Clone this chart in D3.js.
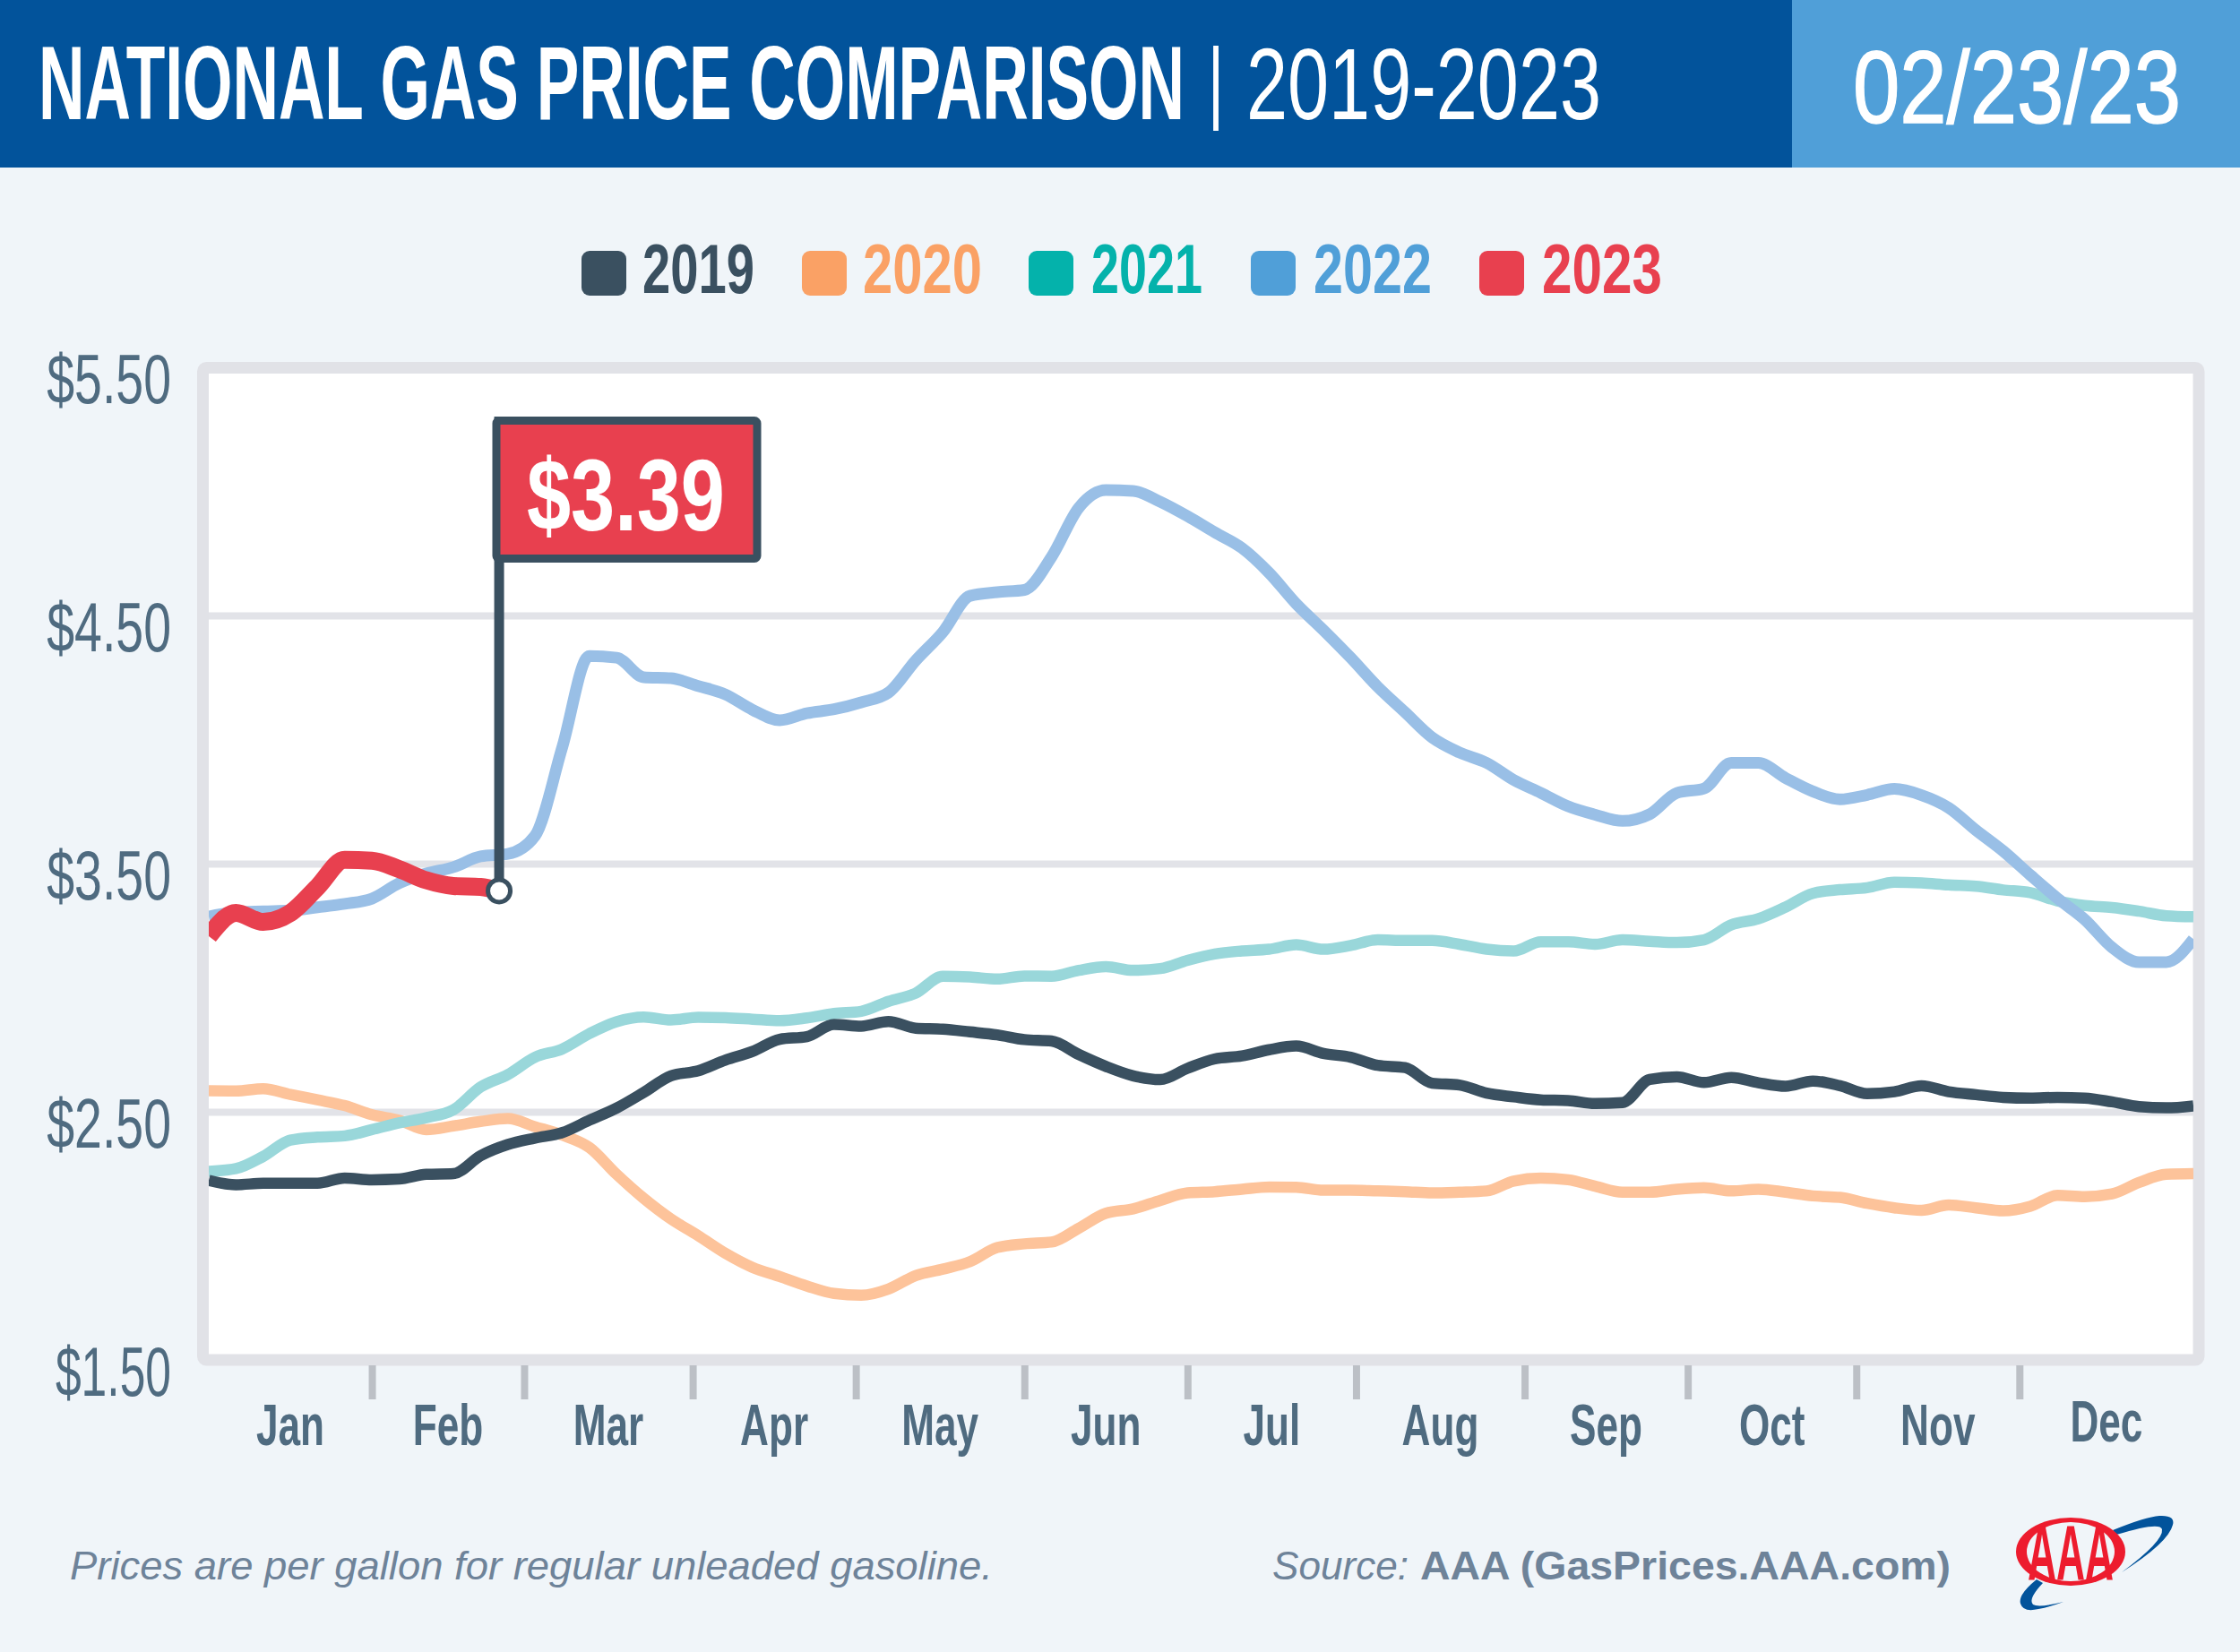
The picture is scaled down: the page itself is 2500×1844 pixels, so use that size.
<!DOCTYPE html>
<html>
<head>
<meta charset="utf-8">
<script src="https://cdn.jsdelivr.net/npm/d3@7"></script>
<style>
html,body{margin:0;padding:0;background:#f0f5f9;}
svg{display:block;}
text{font-family:"Liberation Sans",sans-serif;}
</style>
</head>
<body>
<svg id="c" width="2500" height="1844"></svg>
<script>
const years = ["2019","2020","2021","2022","2023"];
const legendColors = ["#3a5060","#faa165","#04b2ab","#509fd8","#e8404f"];
const lineColors = ["#3a5060","#fdc39a","#99d7da","#99bfe6","#e8404f"];
const months = ["Jan","Feb","Mar","Apr","May","Jun","Jul","Aug","Sep","Oct","Nov","Dec"];
const monthEnds = [30,58,89,119,150,180,211,242,272,303,333];
const priceTicks = [1.5,2.5,3.5,4.5,5.5];
const gridTicks = [2.5,3.5,4.5];
const days = d3.range(0,370,5);
const days2023 = [0,5,10,15,20,25,30,35,40,45,50,53.4];

const y2019 = [2.224,2.206,2.212,2.212,2.212,2.233,2.226,2.229,2.248,2.251,2.323,2.368,2.394,2.416,2.466,2.515,2.578,2.645,2.665,2.708,2.743,2.792,2.803,2.852,2.845,2.864,
2.837,2.833,2.822,2.810,2.791,2.785,2.731,2.683,2.645,2.630,2.675,2.713,2.725,2.750,2.765,2.735,2.720,2.687,2.678,2.615,2.608,2.575,2.560,2.548,2.545,2.533,
2.537,2.630,2.641,2.618,2.638,2.617,2.603,2.624,2.605,2.573,2.581,2.605,2.581,2.569,2.558,2.555,2.558,2.555,2.540,2.521,2.516,2.524];
const y2020 = [2.585,2.584,2.593,2.570,2.548,2.525,2.488,2.466,2.428,2.443,2.461,2.473,2.440,2.406,2.356,2.248,2.151,2.068,2.001,1.930,1.873,1.836,1.798,1.768,1.761,1.786,
1.840,1.866,1.896,1.953,1.968,1.975,2.031,2.091,2.109,2.143,2.173,2.178,2.188,2.197,2.196,2.184,2.184,2.181,2.178,2.173,2.176,2.181,2.221,2.233,2.226,2.200,
2.176,2.176,2.188,2.194,2.181,2.188,2.176,2.161,2.155,2.131,2.113,2.103,2.125,2.113,2.101,2.119,2.163,2.158,2.169,2.215,2.248,2.251];
const y2021 = [2.260,2.271,2.320,2.386,2.398,2.403,2.428,2.455,2.476,2.508,2.600,2.650,2.720,2.753,2.815,2.863,2.882,2.870,2.881,2.879,2.873,2.867,2.878,2.896,2.905,2.945,
2.978,3.046,3.043,3.035,3.047,3.046,3.070,3.085,3.070,3.077,3.110,3.136,3.148,3.155,3.173,3.155,3.170,3.193,3.190,3.190,3.175,3.155,3.148,3.185,3.185,3.175,
3.193,3.187,3.182,3.193,3.253,3.278,3.325,3.380,3.395,3.403,3.425,3.422,3.414,3.409,3.394,3.383,3.350,3.331,3.323,3.308,3.290,3.286];
const y2022 = [3.287,3.304,3.308,3.311,3.324,3.338,3.359,3.421,3.460,3.486,3.529,3.539,3.612,3.968,4.337,4.330,4.251,4.247,4.216,4.182,4.120,4.078,4.106,4.122,4.150,4.189,
4.318,4.433,4.579,4.594,4.603,4.736,4.934,5.005,5.002,4.958,4.900,4.835,4.772,4.672,4.547,4.441,4.330,4.212,4.110,4.008,3.948,3.906,3.837,3.785,3.731,3.697,
3.672,3.699,3.785,3.803,3.906,3.906,3.845,3.791,3.759,3.777,3.801,3.776,3.725,3.635,3.551,3.454,3.360,3.275,3.163,3.103,3.103,3.196];
const y2023 = [3.208,3.301,3.265,3.301,3.406,3.515,3.512,3.478,3.433,3.410,3.406,3.39];
const latestPrice = "$3.39";

const svg = d3.select("#c");
const bg = "#f0f5f9", frameC = "#e1e2e7", axisC = "#4f6b80", noteC = "#6e8399";
const LIB = '"Liberation Sans",sans-serif', ROB = 'Roboto,"Liberation Sans",sans-serif';
const capOf = f => f === ROB ? 0.711 : 0.729;

/* text squeezed to a horizontal span and a cap height */
function fit(g, str, x0, x1, base, cap, weight, fill, fam, sw){
  fam = fam || LIB;
  const t = g.append("text").text(str)
    .attr("font-family", fam).attr("font-size", cap/capOf(fam)).attr("font-weight", weight).attr("fill", fill);
  const w = t.node().getComputedTextLength();
  t.attr("transform", `translate(${x0},${base}) scale(${(x1-x0)/w},1)`);
  if(sw) t.attr("stroke", fill).attr("stroke-width", sw);
  return t;
}

svg.append("rect").attr("width",2500).attr("height",1844).attr("fill",bg);

/* header */
svg.append("rect").attr("width",2000).attr("height",187).attr("fill","#02539b");
svg.append("rect").attr("x",2000).attr("width",500).attr("height",187).attr("fill","#509fd8");
const head = svg.append("g");
fit(head,"NATIONAL GAS PRICE COMPARISON",43,1322,133,83,"700","#fff",ROB);
head.append("text").text("|").attr("text-anchor","middle")
  .attr("transform","translate(1357,125) scale(0.7,1)")
  .attr("font-size",102).attr("fill","#fff");
fit(head,"2019-2023",1391,1787,133,83,"400","#fff");
fit(head,"02/23/23",2068,2434,137,84,"400","#fff",LIB,1.5);

/* legend */
const legendSw = [649,895,1148,1396,1651];
const legendTx = [[717,842],[963,1096],[1218,1342],[1466,1598],[1721,1855]];
const leg = svg.append("g");
years.forEach((yr,i)=>{
  leg.append("rect").attr("x",legendSw[i]).attr("y",280).attr("width",50).attr("height",50).attr("rx",9).attr("fill",legendColors[i]);
  fit(leg,yr,legendTx[i][0],legendTx[i][1],327,55,"700",legendColors[i],ROB);
});

/* scales */
const x = d3.scaleLinear().domain([0,365]).range([233,2448]);
const y = d3.scaleLinear().domain([1.5,5.5]).range([1518,410]);

/* frame */
svg.append("rect").attr("x",226.5).attr("y",410.5).attr("width",2227.5).attr("height",1107.5)
  .attr("rx",4).attr("fill","#fff").attr("stroke",frameC).attr("stroke-width",13);

/* grid */
const grid = svg.append("g").attr("transform","translate(233,0)")
  .call(d3.axisRight(y).tickValues(gridTicks).tickSize(2215).tickFormat(""));
grid.select(".domain").remove();
grid.selectAll("line").attr("stroke","#e2e3e8").attr("stroke-width",8);

/* month ticks */
const xAxis = svg.append("g").attr("transform","translate(0,1524)")
  .call(d3.axisBottom(x).tickValues(monthEnds).tickSize(38).tickFormat(""));
xAxis.select(".domain").remove();
xAxis.selectAll("line").attr("stroke","#bcc0c6").attr("stroke-width",8);

/* month labels */
const mEdges = [0,...monthEnds,365];
const mg = svg.append("g");
months.forEach((m,i)=>{
  const cx = x((mEdges[i]+mEdges[i+1])/2);
  mg.append("text").text(m).attr("text-anchor","middle")
    .attr("transform",`translate(${cx},${m==="Dec"?1609:1613}) scale(0.69,1)`)
    .attr("font-size",64).attr("font-weight","700").attr("fill",axisC);
});

/* price labels */
const pg = svg.append("g");
priceTicks.forEach(p=>{
  pg.append("text").text("$"+p.toFixed(2)).attr("text-anchor","end")
    .attr("transform",`translate(191,${y(p)+40}) scale(${p===1.5?0.67:0.72},1)`)
    .attr("font-family",ROB).attr("font-size",77).attr("font-weight","300").attr("fill",axisC);
});

/* lines */
svg.append("clipPath").attr("id","pl").append("rect").attr("x",233).attr("y",417).attr("width",2215).attr("height",1095);
const plot = svg.append("g").attr("clip-path","url(#pl)");
const line = d3.line().x(d=>x(d[0])).y(d=>y(d[1])).curve(d3.curveMonotoneX);
const zipD = (xs,ys)=>xs.map((d,i)=>[d,ys[i]]);
[[y2020,1,12.5],[y2021,2,12.5],[y2019,0,12.5],[y2022,3,13]].forEach(([s,c,w])=>{
  plot.append("path").datum(zipD(days,s)).attr("d",line).attr("fill","none")
    .attr("stroke",lineColors[c]).attr("stroke-width",w).attr("stroke-linejoin","round");
});
plot.append("path").datum(zipD(days2023,y2023)).attr("d",line).attr("fill","none")
  .attr("stroke",lineColors[4]).attr("stroke-width",20).attr("stroke-linejoin","round");

/* flag */
const lastX = x(days2023[days2023.length-1]), lastY = y(y2023[y2023.length-1]);
const flag = svg.append("g");
flag.append("line").attr("x1",lastX).attr("x2",lastX).attr("y1",465).attr("y2",lastY)
  .attr("stroke","#3a5060").attr("stroke-width",11);
flag.append("rect").attr("x",554).attr("y",469.5).attr("width",291).attr("height",154).attr("rx",3)
  .attr("fill","#e8404f").attr("stroke","#3a5060").attr("stroke-width",9);
fit(flag,latestPrice,588,809,591.5,82,"700","#fff");
flag.append("circle").attr("cx",lastX).attr("cy",lastY).attr("r",12.5)
  .attr("fill","#fff").attr("stroke","#3a5060").attr("stroke-width",5);

/* footer */
const foot = svg.append("g");
const footT = (str,x0,x1,w,st)=>{
  fit(foot,str,x0,x1,1763,33,w,noteC).attr("font-style",st);
};
footT("Prices are per gallon for regular unleaded gasoline.",78,1108,"400","italic");
footT("Source:",1420,1572,"400","italic");
footT("AAA (GasPrices.AAA.com)",1585,2177,"700","normal");

/* AAA logo */
const logo = svg.append("g");
logo.append("path").attr("fill","#02539b")
  .attr("d","M2358,1708 Q2395,1693 2410,1692 Q2428,1691 2425,1702 Q2420,1722 2368,1755 Q2415,1720 2413,1707 Q2411,1698 2362,1713 Z");
logo.append("path").attr("fill","#02539b")
  .attr("d","M2273,1763 Q2252,1780 2255,1790 Q2258,1800 2275,1796 Q2290,1793 2303,1788 Q2275,1795 2269,1791 Q2263,1785 2280,1767 Z");
logo.append("ellipse").attr("cx",2311).attr("cy",1732).attr("rx",61).attr("ry",38).attr("fill","#ed1c2e");
logo.append("ellipse").attr("cx",2311).attr("cy",1732).attr("rx",49).attr("ry",33).attr("fill",bg);
fit(logo,"AAA",2263,2359,1763,63,"700","#ed1c2e");
</script>
</body>
</html>
